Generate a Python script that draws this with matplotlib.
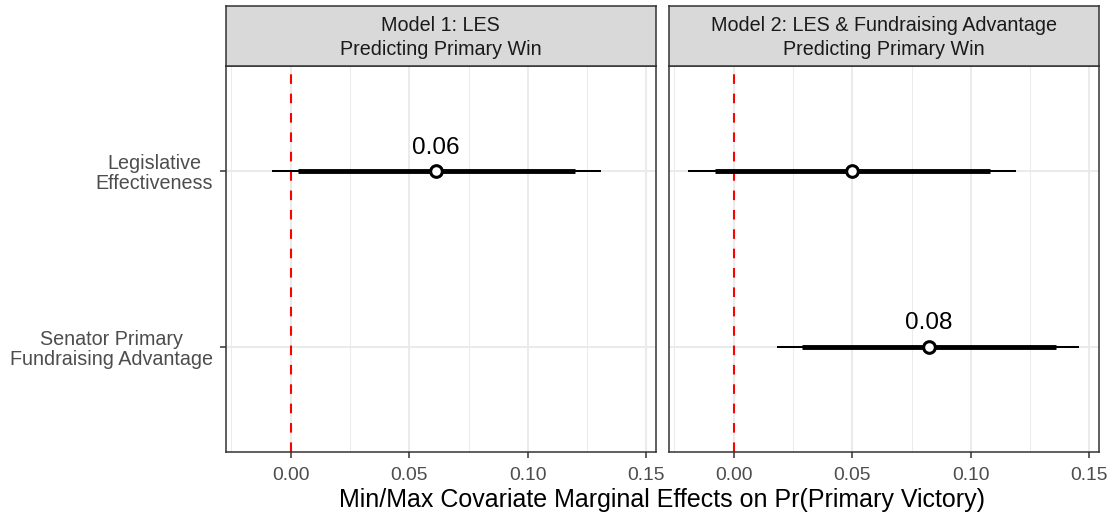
import matplotlib.pyplot as plt
from matplotlib.ticker import MultipleLocator

plt.rcParams["font.family"] = ["Liberation Sans", "DejaVu Sans"]

# estimates per model: point, thick (90%) and thin (95%) intervals
covariates = ["Senator Primary\nFundraising Advantage", "Legislative\nEffectiveness"]
panel_titles = ["Model 1: LES\nPredicting Primary Win",
                "Model 2: LES & Fundraising Advantage\nPredicting Primary Win"]

m1_rows = [1]  # only LES in model 1
m1_est = [0.0613]
m1_lo90 = [0.0030]
m1_hi90 = [0.1197]
m1_lo95 = [-0.0080]
m1_hi95 = [0.1308]
m1_label = [True]

m2_rows = [1, 0]
m2_est = [0.0500, 0.0822]
m2_lo90 = [-0.0080, 0.0287]
m2_hi90 = [0.1081, 0.1360]
m2_lo95 = [-0.0191, 0.0183]
m2_hi95 = [0.1191, 0.1456]
m2_label = [False, True]

ticks = [0.00, 0.05, 0.10, 0.15]
tick_labels = ["0.00", "0.05", "0.10", "0.15"]

models = [
    (m1_rows, m1_est, m1_lo90, m1_hi90, m1_lo95, m1_hi95, m1_label),
    (m2_rows, m2_est, m2_lo90, m2_hi90, m2_lo95, m2_hi95, m2_label),
]

fig = plt.figure(figsize=(11.15, 5.16), dpi=100)

panel_x = [226 / 1115, 669 / 1115]
panel_w = 429.5 / 1115
panel_y = 63.7 / 516
panel_h = 386.6 / 516
strip_h = 59.7 / 516

edge = "#333333"

for i, (rows, est, lo90, hi90, lo95, hi95, lab) in enumerate(models):
    ax = fig.add_axes([panel_x[i], panel_y, panel_w, panel_h])
    ax.set_xlim(-0.0273, 0.1538)
    ax.set_ylim(-0.6, 1.6)

    ax.xaxis.set_major_locator(MultipleLocator(0.05))
    ax.xaxis.set_minor_locator(MultipleLocator(0.025))
    ax.set_xticks(ticks)
    ax.set_xticklabels(tick_labels)
    ax.set_yticks([0, 1])
    ax.grid(which="major", axis="both", color="#EBEBEB", linewidth=1.5, zorder=0)
    ax.grid(which="minor", axis="x", color="#EBEBEB", linewidth=0.75, zorder=0)
    ax.set_axisbelow(True)

    for s in ax.spines.values():
        s.set_color(edge)
        s.set_linewidth(1.1)

    ax.tick_params(axis="x", which="major", length=4.5, width=1.1, color=edge,
                   labelsize=13.9, labelcolor="#4D4D4D", pad=6)
    ax.tick_params(axis="x", which="minor", length=0)
    if i == 0:
        ax.set_yticklabels(covariates, multialignment="center", linespacing=1.08)
        ax.tick_params(axis="y", length=4.5, width=1.1, color=edge,
                       labelsize=14.2, labelcolor="#4D4D4D", pad=5)
    else:
        ax.tick_params(axis="y", length=0, labelleft=False)

    ax.axvline(0, color="red", linewidth=1.5, dashes=(4.6, 4.7), zorder=2)

    for r, e, a, b, c, d, show in zip(rows, est, lo90, hi90, lo95, hi95, lab):
        ax.plot([c, d], [r, r], color="black", linewidth=1.45,
                solid_capstyle="butt", zorder=3)
        ax.plot([a, b], [r, r], color="black", linewidth=3.5,
                solid_capstyle="butt", zorder=4)
        ax.plot(e, r, "o", markersize=8.4, markerfacecolor="white",
                markeredgecolor="black", markeredgewidth=2.2, zorder=5)
        if show:
            ax.annotate(f"{e:.2f}", (e, r), xytext=(0, 17.4),
                        textcoords="offset pixels", ha="center", va="baseline",
                        fontsize=17.5, color="black")

    # facet strip
    sx = fig.add_axes([panel_x[i], panel_y + panel_h, panel_w, strip_h])
    sx.set_facecolor("#D9D9D9")
    sx.set_xticks([])
    sx.set_yticks([])
    for s in sx.spines.values():
        s.set_color(edge)
        s.set_linewidth(1.1)
    sx.text(0.5, 0.47, panel_titles[i], ha="center", va="center",
            fontsize=14.2, color="#1A1A1A", linespacing=1.3,
            transform=sx.transAxes)

fig.text(662 / 1115, 9.3 / 516, "Min/Max Covariate Marginal Effects on Pr(Primary Victory)",
         ha="center", va="baseline", fontsize=18, color="black")

fig.savefig("out.png", dpi=100)
